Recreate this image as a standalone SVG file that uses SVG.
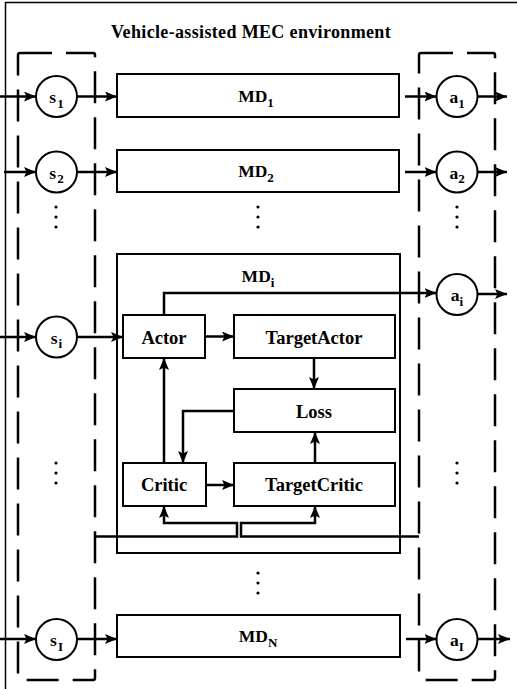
<svg xmlns="http://www.w3.org/2000/svg" width="517" height="689" viewBox="0 0 517 689">
<style>
text{font-family:'Liberation Serif','Times New Roman','DejaVu Serif',serif;font-weight:700;font-size:17.5px;fill:#000;text-anchor:middle}
.sub{font-size:13px}
.lbl{font-size:18.5px}
.title{font-size:18px;letter-spacing:0.35px}
.box{fill:#fff;stroke:#000;stroke-width:2}
.circ{fill:#fff;stroke:#000;stroke-width:2}
.dash{fill:none;stroke:#000;stroke-width:2.5;stroke-dasharray:32 14}
.c{fill:none;stroke:#000;stroke-width:2.5;marker-end:url(#ah)}
</style>
<defs>
<marker id="ah" markerWidth="12" markerHeight="10" refX="12" refY="5" orient="auto" markerUnits="userSpaceOnUse"><path d="M0,0 L12,5 L0,10 L2.5,5 z" fill="#000"/></marker>
</defs>
<rect width="517" height="689" fill="#fff"/>
<g id="env"><rect x="5.5" y="2.5" width="600" height="700" fill="none" stroke="#000" stroke-width="1.5"/>
<text class="title" x="251" y="38">Vehicle-assisted MEC environment</text></g>
<g id="stateGroup"><rect class="dash" x="18" y="53" width="77" height="627" rx="2"/></g>
<g id="actionGroup"><rect class="dash" x="419" y="53" width="76" height="627" rx="2"/></g>

<g id="connectors">
<path class="c" d="M0,96.5 H36"/>
<path class="c" d="M77,96.5 H117"/>
<path class="c" d="M405,96.5 H436.5"/>
<path class="c" d="M477.5,96.5 H507"/>
<path class="c" d="M4,172 H36"/>
<path class="c" d="M77,172 H117"/>
<path class="c" d="M405,172 H436.5"/>
<path class="c" d="M477.5,172 H507"/>
<path class="c" d="M0,337 H36"/>
<path class="c" d="M77,337 H123"/>
<path class="c" d="M205,336.5 H234"/>
<path class="c" d="M164,315 V293 H436.5"/>
<path class="c" d="M477.5,294 H507"/>
<path class="c" d="M314,358 V389"/>
<path class="c" d="M234,411 H183 V463"/>
<path class="c" d="M164,463 V358"/>
<path class="c" d="M206,485 H234"/>
<path class="c" d="M315,463 V432"/>
<path class="c" d="M95,536.5 H237 V523 H164 V506"/>
<path class="c" d="M419,536.5 H241 V523 H315 V506"/>
<path class="c" d="M0,639 H36"/>
<path class="c" d="M77,639 H117"/>
<path class="c" d="M406,639 H436.5"/>
<path class="c" d="M477.5,639 H510"/>
</g>

<g id="dots" fill="#000">
<circle cx="56" cy="207" r="1.6"/><circle cx="56" cy="217" r="1.6"/><circle cx="56" cy="227" r="1.6"/>
<circle cx="258" cy="207" r="1.6"/><circle cx="258" cy="217" r="1.6"/><circle cx="258" cy="227" r="1.6"/>
<circle cx="457" cy="207" r="1.6"/><circle cx="457" cy="217" r="1.6"/><circle cx="457" cy="227" r="1.6"/>
<circle cx="56" cy="463" r="1.6"/><circle cx="56" cy="473" r="1.6"/><circle cx="56" cy="483" r="1.6"/>
<circle cx="457" cy="463" r="1.6"/><circle cx="457" cy="473" r="1.6"/><circle cx="457" cy="483" r="1.6"/>
<circle cx="258" cy="573" r="1.6"/><circle cx="258" cy="583" r="1.6"/><circle cx="258" cy="593" r="1.6"/>
</g>

<g id="s1"><circle class="circ" cx="56.5" cy="96.5" r="20.5"/><text x="56.5" y="103">s<tspan class="sub" dx="1" dy="4.5">1</tspan></text></g>
<g id="s2"><circle class="circ" cx="56.5" cy="172" r="20.5"/><text x="56.5" y="178.5">s<tspan class="sub" dx="1" dy="4.5">2</tspan></text></g>
<g id="si"><circle class="circ" cx="56.5" cy="337" r="20.5"/><text x="56.5" y="343.5">s<tspan class="sub" dx="1" dy="4.5">i</tspan></text></g>
<g id="sI"><circle class="circ" cx="56.5" cy="639.5" r="20.5"/><text x="56.5" y="646">s<tspan class="sub" dx="1" dy="4.5">I</tspan></text></g>

<g id="a1"><circle class="circ" cx="457" cy="96.5" r="20.5"/><text x="457" y="103">a<tspan class="sub" dy="4.5">1</tspan></text></g>
<g id="a2"><circle class="circ" cx="457" cy="172" r="20.5"/><text x="457" y="178.5">a<tspan class="sub" dy="4.5">2</tspan></text></g>
<g id="ai"><circle class="circ" cx="457" cy="294.5" r="20.5"/><text x="457" y="301">a<tspan class="sub" dy="4.5">i</tspan></text></g>
<g id="aI"><circle class="circ" cx="457" cy="639.5" r="20.5"/><text x="457" y="646">a<tspan class="sub" dy="4.5">I</tspan></text></g>

<g id="MD1"><rect class="box" x="117" y="74" width="282" height="43"/><text x="256" y="102">MD<tspan class="sub" dy="4.5">1</tspan></text></g>
<g id="MD2"><rect class="box" x="117" y="150" width="282" height="42"/><text x="256" y="177">MD<tspan class="sub" dy="4.5">2</tspan></text></g>
<g id="MDi"><rect x="117" y="254" width="283" height="299" fill="none" stroke="#000" stroke-width="2"/><text x="258" y="282">MD<tspan class="sub" dy="4.5">i</tspan></text></g>
<g id="Actor"><rect class="box" x="123" y="315" width="82" height="43"/><text class="lbl" x="164" y="344">Actor</text></g>
<g id="TargetActor"><rect class="box" x="234" y="315" width="161" height="43"/><text class="lbl" x="314" y="344">TargetActor</text></g>
<g id="Loss"><rect class="box" x="234" y="389" width="161" height="43"/><text class="lbl" x="314" y="418">Loss</text></g>
<g id="Critic"><rect class="box" x="123" y="463" width="83" height="43"/><text class="lbl" x="164" y="491">Critic</text></g>
<g id="TargetCritic"><rect class="box" x="234" y="463" width="161" height="43"/><text class="lbl" x="314" y="491">TargetCritic</text></g>
<g id="MDN"><rect class="box" x="117" y="615" width="283" height="42"/><text x="258" y="642">MD<tspan class="sub" dy="4.5">N</tspan></text></g>
</svg>
